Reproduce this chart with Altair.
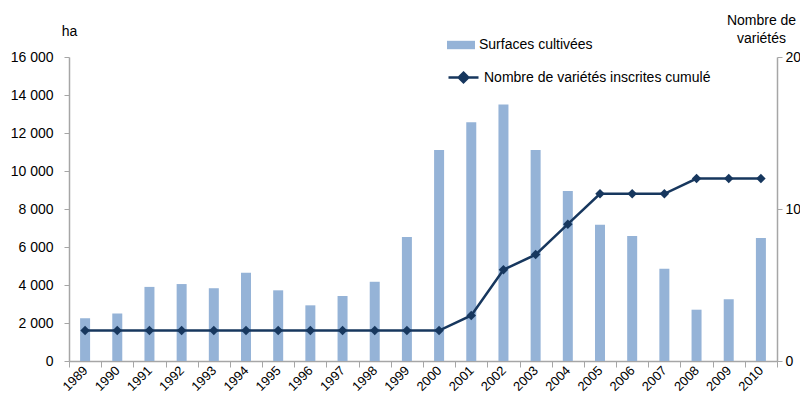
import altair as alt
import pandas as pd

years = [str(y) for y in range(1989, 2011)]
surfaces = [2250, 2500, 3900, 4050, 3830, 4650, 3720, 2930, 3420, 4170, 6530,
            11100, 12560, 13500, 11100, 8950, 7170, 6580, 4850, 2700, 3250, 6470]
varietes = [2, 2, 2, 2, 2, 2, 2, 2, 2, 2, 2,
            2, 3, 6, 7, 9, 11, 11, 11, 12, 12, 12]
left_ticks = [0, 2000, 4000, 6000, 8000, 10000, 12000, 14000, 16000]
right_ticks = [0, 10, 20]
serie_bar = "Surfaces cultivées"
serie_line = "Nombre de variétés inscrites cumulé"

df = pd.DataFrame({"year": years, "surface": surfaces, "varietes": varietes})
df["s1"] = serie_bar
df["s2"] = serie_line

BAR = "#95B3D7"
NAVY = "#17375E"
FONT = "Liberation Sans"

base = alt.Chart(df)

xenc = alt.X("year:N", title=None, sort=years,
             scale=alt.Scale(paddingInner=0, paddingOuter=0),
             axis=alt.Axis(labelAngle=315, labelAlign="right", labelBaseline="middle",
                           tickBand="extent", tickSize=6, labelPadding=1, labelFontSize=13))

bars = base.mark_bar(size=10).encode(
    x=xenc,
    y=alt.Y("surface:Q", scale=alt.Scale(domain=[0, 16000], nice=False),
            axis=alt.Axis(values=left_ticks, tickSize=5, labelPadding=11,
                          labelExpr="replace(format(datum.value, ','), ',', ' ')",
                          title="ha", titleAngle=0, titleX=0, titleY=-26,
                          titleAlign="center", titleBaseline="middle")),
    color=alt.Color("s1:N", scale=alt.Scale(domain=[serie_bar], range=[BAR]),
                    legend=alt.Legend(title=None, orient="none", legendX=378, legendY=-26,
                                      padding=0, symbolType="M-1,-0.3L1,-0.3L1,0.3L-1,0.3Z",
                                      symbolSize=784, symbolStrokeWidth=0, labelOffset=4)),
)

yline = alt.Y("varietes:Q", scale=alt.Scale(domain=[0, 20], nice=False),
              axis=alt.Axis(orient="right", values=right_ticks, tickSize=5, labelPadding=3,
                            title=["Nombre de", "variétés"], titleAngle=0, titleX=-16, titleY=-37,
                            titleAlign="center", titleBaseline="middle", titleLineHeight=18))

line = base.mark_line(strokeWidth=2.5).encode(
    x=alt.X("year:N", sort=years),
    y=yline,
    stroke=alt.Stroke("s2:N", scale=alt.Scale(domain=[serie_line], range=[NAVY]),
                      legend=alt.Legend(title=None, orient="none", legendX=378, legendY=4,
                                        padding=0,
                                        symbolType="M-1,0L1,0M0,-0.32L0.32,0L0,0.32L-0.32,0Z",
                                        symbolSize=900, symbolStrokeWidth=2.5,
                                        symbolFillColor=NAVY, labelOffset=4)),
)

points = base.mark_point(shape="diamond", filled=True, size=90, color=NAVY, opacity=1).encode(
    x=alt.X("year:N", sort=years),
    y=yline,
)

chart = alt.layer(bars, alt.layer(line, points)).resolve_scale(
    y="independent"
).properties(
    width=708, height=304,
    autosize=alt.AutoSizeParams(type="none"),
    padding={"left": 61, "top": 49, "right": 23, "bottom": 34},
).configure_view(stroke=None).configure_axis(
    grid=False, labelFont=FONT, labelFontSize=14, labelColor="#000000",
    titleFont=FONT, titleFontSize=14, titleColor="#000000", titleFontWeight="normal",
    domainColor="#A6A6A6", tickColor="#A6A6A6", domainWidth=1.5,
).configure_legend(
    labelFont=FONT, labelFontSize=14, labelColor="#000000", labelLimit=400,
)

chart.save("out.html", embed_options={"renderer": "svg", "actions": False})
